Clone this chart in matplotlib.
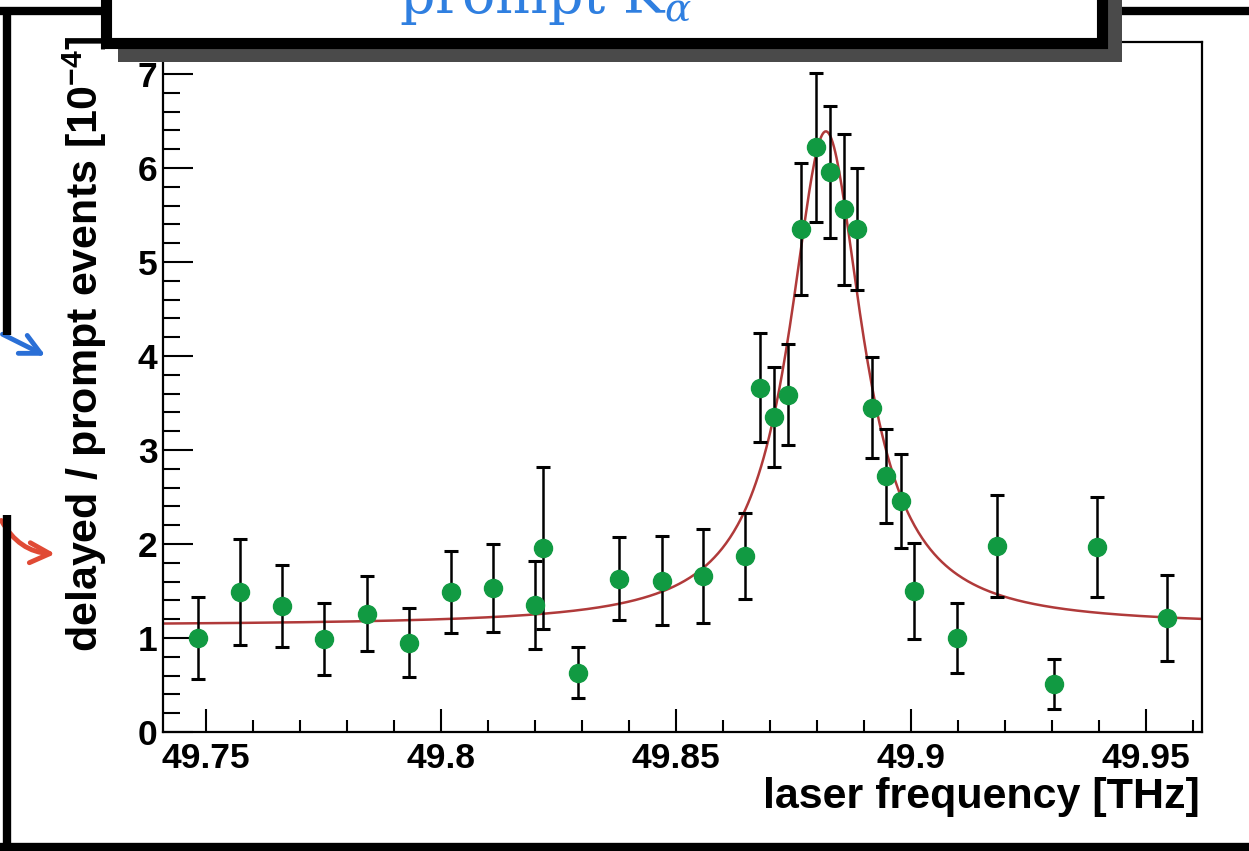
import numpy as np
import matplotlib
matplotlib.use("Agg")
import matplotlib.pyplot as plt
from matplotlib.patches import Rectangle, FancyArrowPatch
from matplotlib.lines import Line2D
from matplotlib.ticker import MultipleLocator, FuncFormatter

plt.rcParams['mathtext.fontset'] = 'dejavuserif'

# measured points (laser frequency in THz, ratio in units of 1e-4)
freq = [49.7484, 49.7572, 49.7663, 49.7752, 49.7842, 49.7932, 49.8021, 49.8111,
        49.8200, 49.8218, 49.8291, 49.8379, 49.8470, 49.8558, 49.8648, 49.8679,
        49.8709, 49.8738, 49.8767, 49.8797, 49.8828, 49.8858, 49.8886, 49.8918,
        49.8946, 49.8978, 49.9007, 49.9097, 49.9184, 49.9304, 49.9395, 49.9545]
ratio = [1.00, 1.49, 1.34, 0.99, 1.26, 0.95, 1.49, 1.53,
         1.35, 1.96, 0.63, 1.63, 1.61, 1.66, 1.87, 3.66,
         3.35, 3.59, 5.35, 6.22, 5.96, 5.56, 5.35, 3.45,
         2.72, 2.46, 1.50, 1.00, 1.98, 0.51, 1.97, 1.21]
err = [0.44, 0.56, 0.44, 0.38, 0.40, 0.37, 0.44, 0.47,
       0.47, 0.86, 0.27, 0.44, 0.47, 0.50, 0.46, 0.58,
       0.53, 0.54, 0.70, 0.79, 0.70, 0.80, 0.65, 0.54,
       0.50, 0.50, 0.51, 0.37, 0.54, 0.27, 0.53, 0.46]

# Lorentzian fit parameters
fit_base = 1.13
fit_amp = 5.26
fit_center = 49.8819
fit_hwhm = 0.0095

W, H = 1249, 851
fig = plt.figure(figsize=(W / 100, H / 100), dpi=100)

def fx(px):
    return px / W

def fy(py):
    return 1 - py / H

ax = fig.add_axes([fx(163), fy(732), (1202 - 163) / W, (732 - 42) / H])
xlo, xhi = 49.7409, 49.9619
ax.set_xlim(xlo, xhi)
ax.set_ylim(0, 7.34)

xf = np.linspace(xlo, xhi, 800)
yf = fit_base + fit_amp * fit_hwhm**2 / ((xf - fit_center)**2 + fit_hwhm**2)
ax.plot(xf, yf, color='#b03a3a', lw=1.8, zorder=2)

green = '#119a42'
ax.errorbar(freq, ratio, yerr=err, fmt='o', color=green, mec=green, ecolor='black',
            elinewidth=1.8, capsize=5, capthick=2.2, markersize=13, zorder=3)

for s in ['top', 'right', 'bottom', 'left']:
    ax.spines[s].set_linewidth(1.6)

ax.xaxis.set_major_locator(MultipleLocator(0.05))
ax.xaxis.set_minor_locator(MultipleLocator(0.01))
ax.yaxis.set_major_locator(MultipleLocator(1))
ax.yaxis.set_minor_locator(MultipleLocator(0.2))
ax.xaxis.set_major_formatter(FuncFormatter(lambda v, p: '%g' % round(v, 3)))

ax.tick_params(axis='x', which='major', direction='in', length=16.5, width=1.5, pad=7)
ax.tick_params(axis='x', which='minor', direction='in', length=9, width=1.5)
ax.tick_params(axis='y', which='major', direction='in', length=21.5, width=1.5, pad=4)
ax.tick_params(axis='y', which='minor', direction='in', length=12, width=1.5)
for lab in ax.get_xticklabels() + ax.get_yticklabels():
    lab.set_fontfamily('Liberation Sans')
    lab.set_fontweight('bold')
    lab.set_fontsize(25.5)

fig.text(fx(1200), fy(797), 'laser frequency [THz]', ha='right', va='center',
         fontsize=31, fontweight='bold', family='Liberation Sans')
fig.text(fx(85), fy(36), r'delayed / prompt events [10$^{\mathregular{-4}}$]',
         rotation=90, ha='center', va='top', fontsize=31, fontweight='bold',
         family='Liberation Sans')

# outer black frame of the slide
frame = dict(color='black', lw=6, solid_capstyle='butt', transform=fig.transFigure)
fig.add_artist(Line2D([0, 1], [fy(11), fy(11)], **frame))
fig.add_artist(Line2D([fx(7), fx(7)], [fy(11), fy(335)], **frame))
fig.add_artist(Line2D([fx(7), fx(7)], [fy(515), 0], **frame))
fig.add_artist(Line2D([0, 1], [fy(847), fy(847)], **frame))

# title box with shadow, cut off at the top
fig.add_artist(Rectangle((fx(118), fy(62)), (1122 - 118) / W, 0.2,
                         transform=fig.transFigure, facecolor='#4a4a4a',
                         edgecolor='none', zorder=10))
fig.add_artist(Rectangle((fx(105.5), fy(42.5)), (1101.5 - 105.5) / W, 0.2,
                         transform=fig.transFigure, facecolor='white',
                         edgecolor='black', lw=8, zorder=11))
fig.text(fx(546), fy(13), r'prompt K$_\alpha$', ha='center', va='baseline',
         fontsize=40, color='#2f7fe0', family='DejaVu Serif', zorder=12)

# arrows coming from the left
fig.add_artist(FancyArrowPatch((fx(0), fy(333)), (fx(48), fy(357)),
                               transform=fig.transFigure, arrowstyle='->',
                               mutation_scale=36, lw=3.5, color='#2a6fd6'))
fig.add_artist(FancyArrowPatch((fx(0), fy(518)), (fx(58), fy(554)),
                               transform=fig.transFigure, arrowstyle='->',
                               connectionstyle='arc3,rad=0.3',
                               mutation_scale=36, lw=3.5, color='#e04a35'))

fig.savefig('out.png', dpi=100)
